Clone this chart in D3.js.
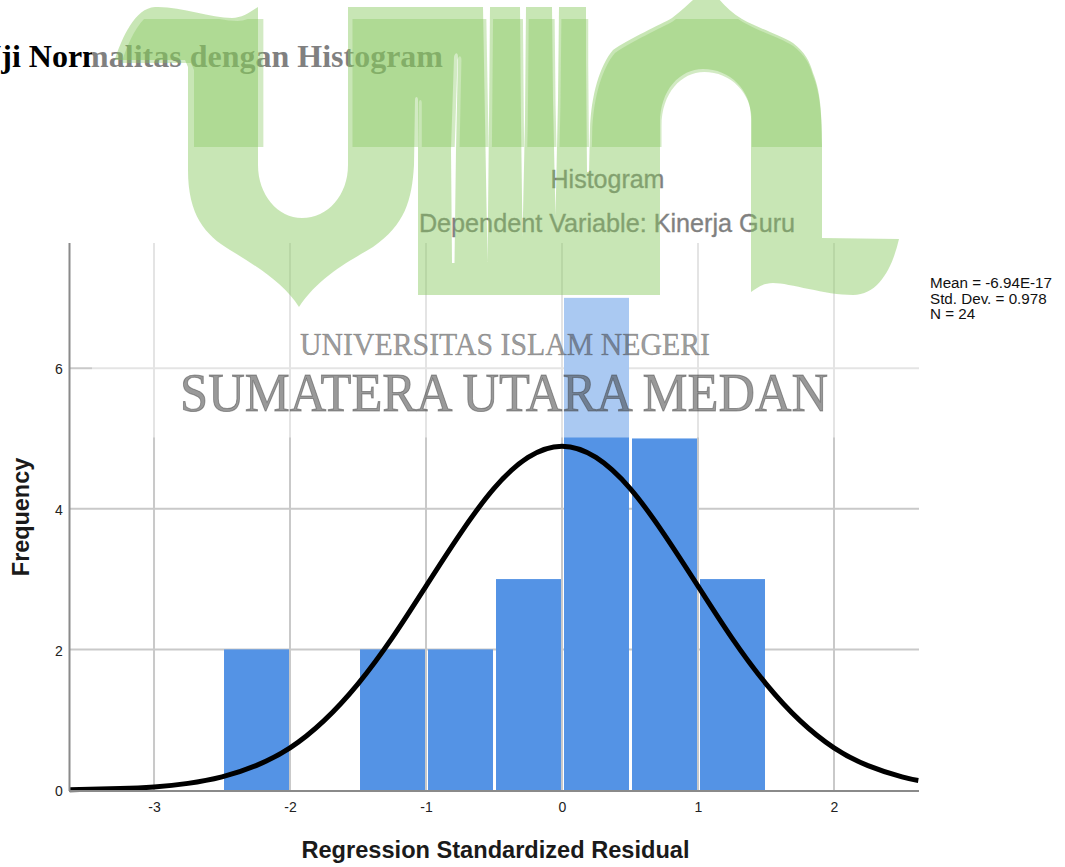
<!DOCTYPE html>
<html><head><meta charset="utf-8">
<script src="https://cdn.jsdelivr.net/npm/d3@7"></script>
<style>html,body{margin:0;padding:0;background:#fff;overflow:hidden}svg{display:block}</style>
</head><body><svg id="c" width="1065" height="867"></svg>
<script>
const binStarts = [-2.5, -1.5, -1, -0.5, 0, 0.5, 1];
const binWidth = 0.5;
const binCounts = [2, 2, 2, 3, 7, 5, 3];
const curveX = [-3.62,-3.25,-3,-2.75,-2.5,-2.25,-2,-1.75,-1.5,-1.25,-1,-0.75,-0.5,-0.25,0,0.25,0.5,0.75,1,1.25,1.5,1.75,2,2.25,2.5,2.62];
const curveY = [0.005,0.02,0.044,0.094,0.186,0.347,0.6,0.987,1.51,2.16,2.9,3.64,4.29,4.73,4.89,4.73,4.29,3.64,2.9,2.16,1.51,0.987,0.6,0.347,0.186,0.135];
const xTicks = [-3,-2,-1,0,1,2];
const yTicks = [0,2,4,6];
const legendLines = ["Mean = -6.94E-17","Std. Dev. = 0.978","N = 24"];

const svg = d3.select("#c");
const x = d3.scaleLinear().domain([-3.62,2.625]).range([69.7,919]);
const y = d3.scaleLinear().domain([0,7.78]).range([790,243]);
const sans = "'Liberation Sans',Arial,sans-serif", serif = "'Liberation Serif','Times New Roman',serif";

svg.append("text").attr("x",443).attr("y",67).attr("text-anchor","end")
  .attr("font-family",serif).attr("font-weight","bold").attr("font-size",32).attr("fill","#000")
  .text("Uji Normalitas dengan Histogram");

const grid = svg.append("g").attr("stroke","#c9c9c9").attr("stroke-width",2);
grid.selectAll(".v").data(xTicks).join("line").attr("x1",d=>x(d)).attr("x2",d=>x(d)).attr("y1",243).attr("y2",790);
grid.selectAll(".h").data(yTicks.filter(d=>d>0)).join("line").attr("x1",69).attr("x2",919).attr("y1",d=>y(d)).attr("y2",d=>y(d));

svg.append("g").selectAll("rect").data(binStarts).join("rect")
  .attr("x",d=>x(d)+2).attr("width",d=>x(d+binWidth)-x(d)-3)
  .attr("y",(d,i)=>y(binCounts[i])).attr("height",(d,i)=>y(0)-y(binCounts[i])).attr("fill","#5493e5");

svg.append("path").datum(curveX).attr("fill","none").attr("stroke","#000").attr("stroke-width",5)
  .attr("d",d3.line().x(d=>x(d)).y((d,i)=>y(curveY[i])).curve(d3.curveNatural));

const fmt = d => String(d);
const ax = svg.append("g").attr("transform","translate(0,790)").call(d3.axisBottom(x).tickValues(xTicks).tickSize(0).tickPadding(12).tickFormat(fmt));
ax.select(".domain").remove();
const ay = svg.append("g").attr("transform","translate(69.7,0)").call(d3.axisLeft(y).tickValues(yTicks).tickSize(0).tickPadding(7).tickFormat(fmt));
ay.select(".domain").remove();
ay.selectAll("text").attr("dy","0.62em").attr("y",-3);
svg.selectAll(".tick text").attr("font-family",sans).attr("font-size",14).attr("fill","#222");
svg.append("line").attr("x1",69.5).attr("x2",69.5).attr("y1",243).attr("y2",791).attr("stroke","#8a8a8a").attr("stroke-width",2);
svg.append("line").attr("x1",69).attr("x2",919).attr("y1",791).attr("y2",791).attr("stroke","#8a8a8a").attr("stroke-width",2);

svg.append("text").attr("x",495.5).attr("y",858).attr("text-anchor","middle").attr("font-family",sans)
  .attr("font-weight","bold").attr("font-size",23.6).attr("fill","#1a1a1a").text("Regression Standardized Residual");
svg.append("text").attr("transform","translate(29,517) rotate(-90)").attr("text-anchor","middle").attr("font-family",sans)
  .attr("font-weight","bold").attr("font-size",23.4).attr("fill","#1a1a1a").text("Frequency");

svg.append("text").attr("x",607.5).attr("y",188).attr("text-anchor","middle").attr("font-family",sans)
  .attr("font-size",25).attr("fill","#000").attr("stroke","#000").attr("stroke-width",0.4).text("Histogram");
svg.append("text").attr("x",607).attr("y",232).attr("text-anchor","middle").attr("font-family",sans)
  .attr("font-size",25.2).attr("fill","#000").attr("stroke","#000").attr("stroke-width",0.4).text("Dependent Variable: Kinerja Guru");

svg.append("g").selectAll("text").data(legendLines).join("text").attr("x",930).attr("y",(d,i)=>288+i*15.6)
  .attr("font-family",sans).attr("font-size",15.2).attr("fill","#111").text(d=>d);

// White wash of the pasted watermark
svg.append("rect").attr("x",92).attr("y",0).attr("width",828).attr("height",437.5).attr("fill","#fff").attr("opacity",0.5);

// Logo watermark
const logo = "M115,59 C122,38 135,8 155,7 C180,6 210,18 232,18 C242,18 250,12 258,7 L258,165 C258,195 278,218 302,218 C328,218 348,195 348,165 L348,7 L483,7 L485,120 L487.5,262 L489,120 L490,7 L520,7 L521,120 L522.5,237 L525,120 L526,7 L552,7 L553,100 L555.5,216 L558,100 L559,7 L586,7 L586,60 L587,172 L589,172 L590,130 C591,95 600,65 613,50 C630,38 660,25 672,18 C682,10 690,3 695,-2 L718,-2 C724,5 732,13 742,19 C760,29 780,35 793,43 C805,52 810,62 813,73 C819,88 822,105 822,147 L822,238 L899,239 C893,265 880,295 853,295 C825,295 790,283 773,283 C763,283 757,288 751,292 L751,117 C751,90 730,69 703,69 C680,69 660,90 660,123 L660,295 L418,295 L418,100 C418,96 415,96 415,100 L414,165 C412,200 405,225 373,247 C355,258 320,275 299,307 C285,285 260,268 230,250 C205,235 188,215 188,170 L188,67 L185,60 L115,60 Z M454,57 C455,52 458,52 458,57 L456,150 L454.5,263 L452,263 L451,150 Z";
const defs = svg.append("defs");
defs.append("clipPath").attr("id","band").append("rect").attr("x",0).attr("y",19).attr("width",1065).attr("height",128);
svg.append("path").attr("d",logo).attr("fill","#85c75b").attr("fill-opacity",0.45).attr("fill-rule","evenodd");
svg.append("g").attr("clip-path","url(#band)").append("path").attr("d",logo)
  .attr("transform","translate(7.8,3) scale(0.9905,1)").attr("fill","#85c75b").attr("fill-opacity",0.37).attr("fill-rule","evenodd");

svg.append("text").attr("x",300).attr("y",355).attr("textLength",410).attr("lengthAdjust","spacingAndGlyphs")
  .attr("font-family",serif).attr("font-size",31).attr("fill","#3c3c3c").attr("fill-opacity",0.52)
  .attr("stroke","#3c3c3c").attr("stroke-opacity",0.4).attr("stroke-width",0.5).text("UNIVERSITAS ISLAM NEGERI");
svg.append("text").attr("x",180).attr("y",411).attr("textLength",648).attr("lengthAdjust","spacingAndGlyphs")
  .attr("font-family",serif).attr("font-size",55).attr("fill","#3c3c3c").attr("fill-opacity",0.52)
  .attr("stroke","#3c3c3c").attr("stroke-opacity",0.45).attr("stroke-width",1).text("SUMATERA UTARA MEDAN");
</script></body></html>
